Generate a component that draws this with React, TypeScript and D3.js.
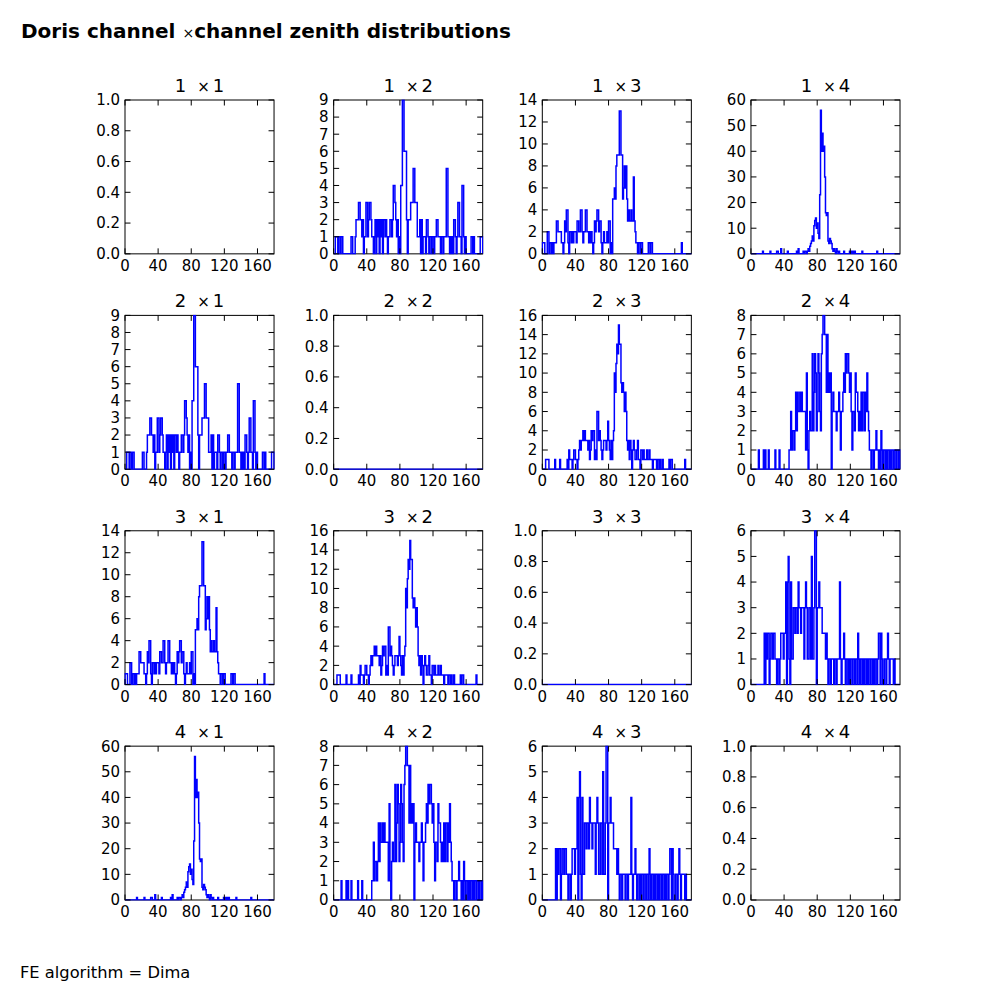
import React from 'react';
import * as d3 from 'd3';

// zenith histograms, 1-degree bins from 0 to 180 degrees
const zen12 = [
  0,0,1,1,1,0,1,1,0,1, 1,0,0,0,0,0,0,0,0,0, 0,1,1,0,0,0,1,2,2,2, 3,3,2,2,1,2,0,1,1,3,
  3,1,2,3,3,2,1,1,0,1, 2,0,2,1,2,0,2,1,2,0, 2,2,1,2,1,0,1,1,2,2, 1,2,4,4,3,2,1,2,0,1,
  0,4,4,9,9,6,6,6,2,0, 2,2,2,3,3,3,5,5,3,3, 3,1,1,1,2,0,2,0,1,1, 1,0,2,2,1,0,1,1,0,1,
  1,0,1,1,2,2,1,1,1,0, 1,1,0,1,1,1,5,5,1,1, 0,1,0,1,0,2,2,1,0,1, 3,3,1,1,0,4,4,1,0,1,
  0,0,0,0,0,0,1,1,0,1, 0,0,0,0,0,0,0,1,1,1,
];
const zen13 = [
  1,1,1,0,0,0,2,2,0,1, 1,0,1,0,1,1,1,3,3,2, 2,2,2,1,1,0,1,3,2,4, 4,1,0,2,2,1,2,1,2,2,
  2,1,3,3,2,2,4,4,2,1, 2,2,4,4,2,2,1,2,1,2, 1,0,1,3,2,3,4,4,2,3, 3,1,0,1,2,1,1,1,2,1,
  3,3,0,1,0,5,5,6,5,8, 9,9,9,13,13,9,9,5,6,8, 6,8,5,3,4,3,3,4,3,3, 7,3,2,1,1,0,1,1,0,1,
  1,0,0,0,0,0,0,0,1,1, 0,1,1,0,0,0,0,0,0,0, 0,0,0,0,0,0,0,0,0,0, 0,0,0,0,0,0,0,0,0,0,
  0,0,0,0,0,0,0,0,1,0, 0,0,0,0,0,0,0,0,0,0,
];
const zen14 = [
  0,0,0,0,0,0,0,0,0,0, 0,0,0,0,1,0,0,0,0,0, 0,0,0,1,0,0,0,0,0,0, 0,1,1,0,0,0,2,0,0,0,
  0,0,0,0,1,0,0,0,0,0, 0,0,0,0,0,1,0,2,0,0, 0,0,0,1,0,1,1,0,1,2, 1,3,4,5,7,5,11,13,14,10,
  12,8,6,23,56,40,47,40,42,30, 16,15,16,5,4,6,5,4,2,1, 2,1,0,2,1,0,1,0,0,0, 0,0,1,0,0,0,0,0,0,1,
  0,1,0,1,0,1,0,0,0,0, 0,0,0,0,1,0,0,0,0,0, 0,0,0,0,0,0,0,0,0,0, 0,0,1,0,0,0,0,0,0,0,
  0,0,0,0,0,0,0,0,0,0, 0,0,0,0,0,0,0,0,0,0,
];
const zen23 = [
  0,0,0,0,1,1,1,1,0,0, 0,0,0,0,0,1,0,0,0,0, 0,1,0,0,0,0,0,0,0,0, 1,0,2,1,1,1,0,1,2,2,
  1,1,0,1,2,3,2,3,3,4, 3,4,3,3,3,2,3,1,2,4, 3,4,4,1,2,1,6,6,3,4, 3,2,1,2,3,3,3,2,3,5,
  3,2,1,3,1,3,4,10,8,11, 13,12,15,13,13,9,8,9,8,6, 8,6,3,2,3,1,3,2,0,2, 3,2,1,1,2,3,1,1,0,2,
  2,1,2,1,1,1,2,1,1,2, 1,1,1,0,1,1,1,1,0,1, 1,0,1,0,0,1,0,0,0,0, 0,0,0,1,0,1,1,0,0,0,
  0,0,0,0,0,0,0,0,0,0, 0,0,1,0,0,0,0,0,0,0,
];
const zen24 = [
  0,0,0,0,0,0,0,0,0,1, 0,0,0,0,0,1,0,1,0,0, 0,1,0,0,0,0,0,0,0,1, 0,0,0,0,1,0,0,0,0,0,
  0,0,0,0,0,0,1,1,3,1, 2,2,1,2,4,2,4,3,3,4, 3,4,3,3,3,3,1,5,1,0, 2,3,2,2,6,2,4,6,5,2,
  3,6,5,3,2,6,7,8,8,7, 7,4,7,4,5,4,5,0,3,4, 3,3,3,2,3,3,4,3,1,3, 3,4,5,4,6,5,6,6,5,4,
  5,3,1,3,3,2,5,4,4,3, 2,3,2,4,2,4,4,2,4,3, 5,3,2,1,1,0,1,1,0,1, 1,2,1,1,0,1,0,2,1,0,
  1,1,0,1,0,1,1,0,1,0, 1,1,0,1,1,0,1,1,0,1,
];
const zen34 = [
  0,0,0,0,0,0,0,0,0,0, 0,0,0,0,0,0,2,0,2,1, 2,2,0,1,2,2,1,2,2,1, 1,0,1,1,0,1,2,2,2,1,
  2,2,4,0,4,5,1,0,4,1, 1,3,3,2,3,3,2,4,3,3, 2,3,3,3,1,3,4,3,1,1, 3,3,1,5,1,1,3,6,6,0,
  3,3,4,3,3,3,2,2,2,2, 1,2,1,0,1,1,0,1,1,1, 0,1,1,0,1,1,1,4,1,0, 1,1,2,1,0,1,1,0,1,0,
  1,1,0,1,1,0,1,1,0,2, 1,0,1,1,0,1,0,1,1,0, 1,0,1,1,0,1,1,0,1,0, 1,1,0,1,2,2,0,2,1,0,
  0,1,1,0,1,2,1,0,1,1, 1,1,0,1,0,0,0,0,0,0,
];
const zenEmpty: number[] = new Array(180).fill(0);

const channels = [1, 2, 3, 4];
const xTicks = [0, 40, 80, 120, 160];
const panelSeries: (number[] | null)[][] = [
  [null, zen12, zen13, zen14],
  [zen12, zenEmpty, zen23, zen24],
  [zen13, zen23, zenEmpty, zen34],
  [zen14, zen24, zen34, null],
];
const panelYMax = [
  [1, 9, 14, 60],
  [9, 1, 16, 8],
  [14, 16, 1, 6],
  [60, 8, 6, 1],
];
const panelYStep = [
  [0.2, 1, 2, 10],
  [1, 0.2, 2, 1],
  [2, 2, 0.2, 1],
  [10, 1, 1, 0.2],
];
const figTitle = 'Doris channel ';
const figTitleRest = 'channel zenith distributions';
const footer = 'FE algorithm = Dima';

const FONT = 'DejaVu Sans';
const left = 125, right = 900, top = 100, bottom = 900, space = 0.4;
const axW = (right - left) / (4 + 3 * space);
const axH = (bottom - top) / (4 + 3 * space);
const TICK = 5.5;
const TICK_FS = 15;

function Panel({ r, c }: { r: number; c: number }) {
  const x0 = left + c * axW * (1 + space);
  const y0 = top + r * axH * (1 + space);
  const x = d3.scaleLinear().domain([0, 180]).range([x0, x0 + axW]);
  const yMax = panelYMax[r][c];
  const step = panelYStep[r][c];
  const y = d3.scaleLinear().domain([0, yMax]).range([y0 + axH, y0]);
  const yTicks = d3.range(0, yMax + step / 2, step);
  const series = panelSeries[r][c];
  let path: string | null = null;
  if (series) {
    const pts: [number, number][] = [[0, 0]];
    series.forEach((v, i) => {
      pts.push([i, v]);
      pts.push([i + 1, v]);
    });
    pts.push([series.length, 0]);
    path = d3.line<[number, number]>().x(d => x(d[0])).y(d => y(d[1]))(pts);
  }
  const fmt = (v: number) => (step < 1 ? v.toFixed(1) : String(Math.round(v)));
  const clipId = `clip-${r}-${c}`;
  return (
    <g>
      <defs>
        <clipPath id={clipId}>
          <rect x={x0 - 0.6} y={y0 - 0.6} width={axW + 1.2} height={axH + 1.2} />
        </clipPath>
      </defs>
      <rect x={x0} y={y0} width={axW} height={axH} fill="white" stroke="black" strokeWidth={1} />
      {path && (
        <path d={path} fill="none" stroke="#0000ff" strokeWidth={1.5} clipPath={`url(#${clipId})`} />
      )}
      {xTicks.map(t => (
        <g key={'x' + t}>
          <line x1={x(t)} x2={x(t)} y1={y0 + axH} y2={y0 + axH - TICK} stroke="black" strokeWidth={1} />
          <line x1={x(t)} x2={x(t)} y1={y0} y2={y0 + TICK} stroke="black" strokeWidth={1} />
          <text x={x(t)} y={y0 + axH + 17} textAnchor="middle" fontSize={TICK_FS} fontFamily={FONT}>
            {t}
          </text>
        </g>
      ))}
      {yTicks.map(t => (
        <g key={'y' + t}>
          <line x1={x0} x2={x0 + TICK} y1={y(t)} y2={y(t)} stroke="black" strokeWidth={1} />
          <line x1={x0 + axW} x2={x0 + axW - TICK} y1={y(t)} y2={y(t)} stroke="black" strokeWidth={1} />
          <text x={x0 - 5} y={y(t)} dy="0.36em" textAnchor="end" fontSize={TICK_FS} fontFamily={FONT}>
            {fmt(t)}
          </text>
        </g>
      ))}
      <text x={x0 + axW / 2} y={y0 - 8} textAnchor="middle" fontSize={18} fontFamily={FONT}>
        <tspan>{channels[r]}</tspan>
        <tspan dx={11} fontSize={15}>×</tspan>
        <tspan dx={3}>{channels[c]}</tspan>
      </text>
    </g>
  );
}

export default function App() {
  return (
    <svg
      width={1000}
      height={1000}
      style={{ position: 'absolute', left: 0, top: 0, background: 'white' }}
    >
      <rect x={0} y={0} width={1000} height={1000} fill="white" />
      <text x={21} y={38} fontSize={20} fontWeight="bold" fontFamily={FONT}>
        <tspan>{figTitle}</tspan>
        <tspan fontWeight="normal" fontSize={14}>×</tspan>
        <tspan>{figTitleRest}</tspan>
      </text>
      {channels.map((_, r) => channels.map((__, c) => <Panel key={`${r}-${c}`} r={r} c={c} />))}
      <text x={20} y={978} fontSize={16.3} fontFamily={FONT}>
        {footer}
      </text>
    </svg>
  );
}
